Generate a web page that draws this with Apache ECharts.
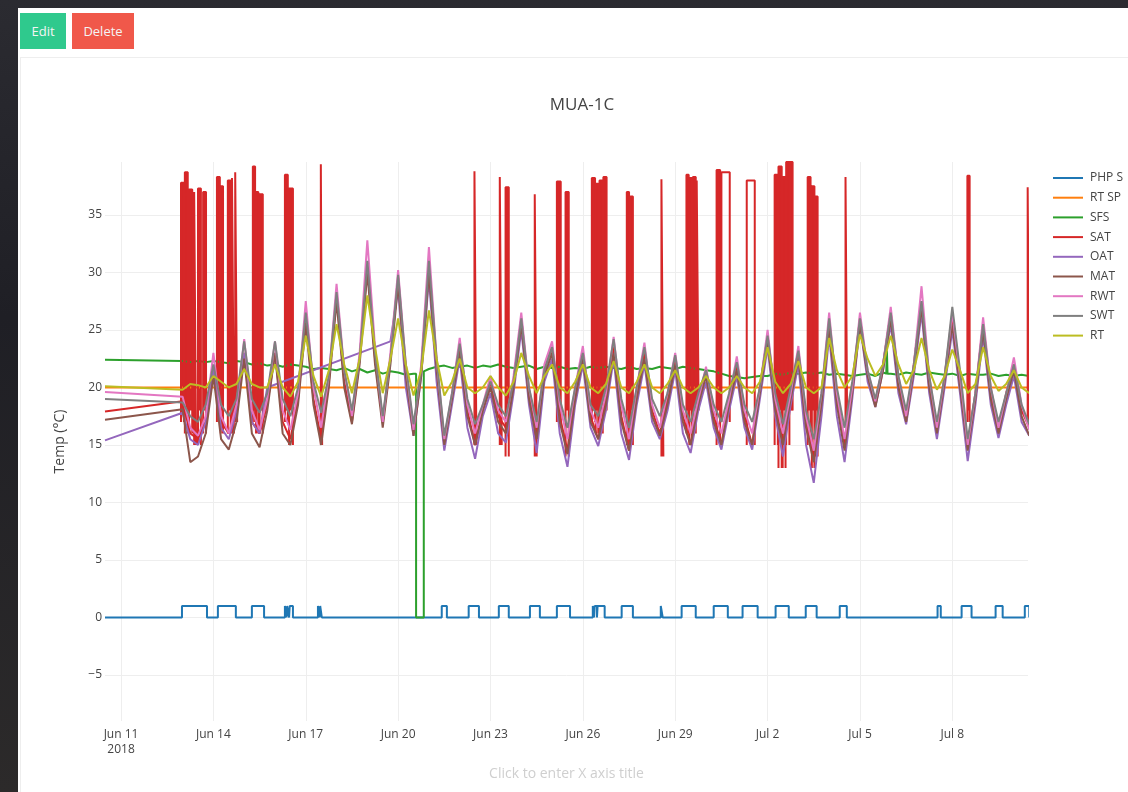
<!DOCTYPE html>
<html>
<head>
<meta charset="utf-8">
<title>MUA-1C</title>
<script src="https://cdn.jsdelivr.net/npm/echarts@6/dist/echarts.min.js"></script>
<style>
  body { margin: 0; width: 1128px; height: 792px; overflow: hidden; font-family: "Open Sans", sans-serif;
         background: linear-gradient(180deg, #2b2b31 0%, #1f1f25 40%, #2c2a2a 100%); }
  #page { position: absolute; left: 18px; top: 8px; right: 0; bottom: 0; background: #fff; }
  .btn { position: absolute; top: 13px; height: 36px; line-height: 36px; color: #f4f4f4; font-size: 13px; text-align: center; }
  #edit { left: 20px; width: 46px; background: #2fc98d; }
  #del { left: 72px; width: 62px; background: #f0584a; }
  #card { position: absolute; left: 20px; top: 57px; width: 1120px; height: 760px; border: 1px solid #eee; }
  #main { position: absolute; left: 0; top: 0; width: 1128px; height: 792px; }
</style>
</head>
<body>
<div id="page"></div>
<div class="btn" id="edit">Edit</div>
<div class="btn" id="del">Delete</div>
<div id="card"></div>
<div id="main"></div>
<script>
// 'MM-DD HH:mm' in 2018, local time
function t(s) {
  var p = s.split(' ');
  var d = p[0].split('-').map(Number);
  var hm = p[1].split(':').map(Number);
  return new Date(2018, d[0] - 1, d[1], hm[0], hm[1]).getTime();
}
var HOUR = 3600 * 1000;

var startTime = '06-10 11:30';
var endTime = '07-10 11:00';
var gridStart = '06-13 00:00';   // readings every 6 hours after the gap

var xTicks = ['06-11 00:00', '06-14 00:00', '06-17 00:00', '06-20 00:00', '06-23 00:00',
              '06-26 00:00', '06-29 00:00', '07-02 00:00', '07-05 00:00', '07-08 00:00'];
var yTicks = [-5, 0, 5, 10, 15, 20, 25, 30, 35];

// first time is the lone reading on Jun 10, then 6-hourly from Jun 13 00:00 to Jul 10 12:00
var times = [t(startTime)];
for (var i = 0; i < 111; i++) times.push(t(gridStart) + i * 6 * HOUR);

var rwt = [
  19.6,
  19.2, 16.5, 15.8, 17.5, // Jun 13
  23.0, 17.5, 16.0, 18.5, // Jun 14
  24.2, 18.0, 16.3, 19.0, // Jun 15
  24.0, 18.0, 16.3, 19.5, // Jun 16
  27.5, 20.0, 16.5, 21.0, // Jun 17
  29.0, 21.5, 17.5, 23.0, // Jun 18
  32.8, 23.5, 17.0, 23.0, // Jun 19
  30.2, 22.0, 16.3, 22.0, // Jun 20
  32.2, 22.5, 15.5, 19.5, // Jun 21
  24.3, 18.5, 16.0, 18.5, // Jun 22
  21.0, 18.0, 17.0, 21.0, // Jun 23
  26.5, 20.0, 16.5, 22.0, // Jun 24
  24.0, 18.5, 15.5, 20.0, // Jun 25
  23.6, 18.0, 16.5, 19.5, // Jun 26
  24.4, 18.5, 15.5, 20.0, // Jun 27
  23.9, 18.5, 16.5, 19.5, // Jun 28
  23.0, 18.0, 16.0, 19.0, // Jun 29
  21.8, 18.0, 16.0, 19.0, // Jun 30
  22.7, 18.0, 16.0, 20.0, // Jul 1
  25.0, 19.0, 16.0, 19.5, // Jul 2
  23.6, 17.5, 14.5, 19.5, // Jul 3
  26.5, 19.5, 15.5, 20.0, // Jul 4
  26.5, 21.5, 18.8, 22.0, // Jul 5
  27.0, 21.0, 17.5, 22.0, // Jul 6
  28.8, 21.0, 16.5, 21.0, // Jul 7
  26.5, 21.0, 15.0, 19.5, // Jul 8
  26.1, 20.0, 16.5, 19.5, // Jul 9
  22.6, 18.5, 16.3        // Jul 10
];

var swt = [
  19.0,
  18.7, 17.5, 17.0, 18.5, // Jun 13
  22.0, 18.5, 17.5, 19.0, // Jun 14
  24.0, 19.0, 17.8, 19.5, // Jun 15
  24.0, 19.0, 17.5, 20.0, // Jun 16
  26.5, 20.5, 17.8, 21.0, // Jun 17
  28.3, 21.5, 18.0, 22.5, // Jun 18
  31.0, 23.0, 17.5, 22.5, // Jun 19
  29.8, 22.0, 16.8, 21.5, // Jun 20
  31.0, 22.5, 15.8, 19.5, // Jun 21
  23.8, 19.0, 16.8, 18.5, // Jun 22
  20.5, 18.5, 17.5, 20.5, // Jun 23
  26.0, 20.0, 17.0, 21.5, // Jun 24
  23.5, 19.0, 16.5, 20.0, // Jun 25
  23.0, 18.5, 17.5, 20.0, // Jun 26
  24.2, 19.0, 16.5, 20.0, // Jun 27
  23.5, 19.0, 17.5, 19.5, // Jun 28
  22.8, 18.5, 17.0, 19.5, // Jun 29
  21.5, 18.5, 17.0, 19.5, // Jun 30
  22.2, 18.5, 17.0, 20.0, // Jul 1
  24.5, 19.5, 16.8, 20.0, // Jul 2
  23.2, 18.0, 15.5, 19.5, // Jul 3
  26.0, 20.0, 16.5, 20.5, // Jul 4
  26.0, 21.5, 19.0, 22.0, // Jul 5
  26.5, 21.0, 18.0, 22.0, // Jul 6
  27.5, 21.0, 17.0, 21.0, // Jul 7
  27.0, 21.5, 15.5, 19.5, // Jul 8
  25.5, 20.0, 17.0, 19.5, // Jul 9
  22.0, 18.5, 16.8        // Jul 10
];

var mat = [
  17.2,
  18.1, 13.5, 14.0, 16.0, // Jun 13
  21.0, 15.5, 14.6, 17.0, // Jun 14
  22.5, 16.0, 14.8, 18.0, // Jun 15
  23.0, 16.0, 15.0, 18.5, // Jun 16
  25.5, 18.5, 15.0, 20.0, // Jun 17
  27.5, 20.0, 16.8, 22.0, // Jun 18
  30.0, 22.0, 16.5, 22.0, // Jun 19
  29.0, 21.0, 15.8, 21.0, // Jun 20
  30.0, 21.5, 15.0, 19.0, // Jun 21
  23.0, 17.5, 15.0, 18.0, // Jun 22
  20.0, 17.0, 16.0, 20.0, // Jun 23
  25.5, 19.0, 15.5, 21.0, // Jun 24
  23.0, 17.0, 14.2, 19.0, // Jun 25
  22.5, 17.0, 15.5, 18.5, // Jun 26
  23.0, 17.0, 14.5, 19.0, // Jun 27
  22.5, 17.5, 15.8, 18.5, // Jun 28
  22.0, 17.0, 15.0, 18.5, // Jun 29
  21.0, 17.0, 15.0, 18.5, // Jun 30
  21.5, 17.0, 15.0, 19.5, // Jul 1
  24.0, 18.0, 15.0, 19.0, // Jul 2
  22.5, 16.5, 13.5, 18.5, // Jul 3
  25.0, 18.5, 14.5, 19.5, // Jul 4
  25.5, 21.0, 18.3, 21.5, // Jul 5
  26.0, 20.0, 17.0, 21.5, // Jul 6
  27.0, 20.0, 16.0, 20.5, // Jul 7
  25.5, 20.0, 14.5, 19.0, // Jul 8
  25.0, 19.0, 16.0, 19.0, // Jul 9
  21.5, 17.5, 15.8        // Jul 10
];

// OAT has no readings from Jun 16 to Jun 19 midday
var oat = [
  15.4,
  17.8, 15.5, 15.0, 17.0, // Jun 13
  21.5, 16.5, 15.5, 18.0, // Jun 14
  23.0, 17.0, 16.0, 20.0, // Jun 15
  null, null, null, null, // Jun 16
  null, null, null, null, // Jun 17
  null, null, null, null, // Jun 18
  null, null, null, 24.0, // Jun 19
  28.5, 20.0, 15.8, 21.0, // Jun 20
  29.5, 20.5, 14.5, 18.5, // Jun 21
  22.5, 16.5, 13.8, 17.5, // Jun 22
  19.5, 16.0, 15.2, 19.5, // Jun 23
  25.0, 18.5, 14.3, 20.5, // Jun 24
  22.5, 16.0, 13.1, 18.5, // Jun 25
  22.0, 16.5, 14.9, 18.0, // Jun 26
  22.5, 16.0, 13.7, 18.5, // Jun 27
  22.0, 17.0, 15.5, 18.0, // Jun 28
  21.5, 16.0, 14.3, 18.0, // Jun 29
  20.5, 16.5, 14.6, 18.0, // Jun 30
  21.0, 16.5, 14.6, 19.0, // Jul 1
  23.5, 17.5, 14.0, 18.5, // Jul 2
  22.0, 15.0, 11.7, 17.5, // Jul 3
  24.5, 17.5, 13.5, 19.0, // Jul 4
  25.5, 20.5, 18.3, 21.5, // Jul 5
  25.5, 19.5, 16.8, 21.0, // Jul 6
  26.5, 19.5, 15.5, 20.0, // Jul 7
  25.0, 19.5, 13.6, 18.5, // Jul 8
  24.5, 18.5, 15.6, 18.5, // Jul 9
  21.0, 17.0, 15.8        // Jul 10
];

var rt = [
  20.1,
  19.8, 20.3, 20.2, 20.0, // Jun 13
  21.0, 20.5, 20.0, 20.3, // Jun 14
  21.6, 20.3, 20.0, 20.0, // Jun 15
  22.0, 20.0, 19.2, 20.5, // Jun 16
  24.5, 21.0, 19.2, 21.5, // Jun 17
  25.5, 22.0, 19.5, 22.5, // Jun 18
  28.0, 23.5, 19.5, 22.5, // Jun 19
  26.0, 22.0, 19.3, 21.5, // Jun 20
  26.7, 22.5, 19.3, 20.5, // Jun 21
  22.5, 20.0, 19.5, 20.0, // Jun 22
  21.0, 20.0, 19.3, 20.5, // Jun 23
  23.0, 21.0, 19.5, 21.0, // Jun 24
  22.0, 20.0, 19.5, 20.5, // Jun 25
  22.0, 20.0, 19.5, 20.3, // Jun 26
  22.3, 20.0, 19.5, 20.5, // Jun 27
  22.0, 20.0, 19.5, 20.3, // Jun 28
  21.5, 20.0, 19.5, 20.0, // Jun 29
  21.0, 20.0, 19.5, 20.0, // Jun 30
  21.0, 20.0, 19.5, 20.5, // Jul 1
  23.5, 20.5, 19.5, 20.3, // Jul 2
  22.3, 20.0, 19.5, 20.0, // Jul 3
  24.3, 21.5, 20.0, 21.0, // Jul 4
  24.6, 22.5, 21.0, 22.0, // Jul 5
  24.5, 22.0, 20.3, 21.5, // Jul 6
  24.3, 21.5, 19.8, 21.0, // Jul 7
  23.3, 21.5, 19.5, 20.3, // Jul 8
  23.5, 21.0, 19.7, 20.3, // Jul 9
  21.5, 20.0, 19.5        // Jul 10
];

// SAT between the heating bursts
var sat = [
  17.9,
  18.8, 16.0, 15.5, 17.0, // Jun 13
  21.5, 17.0, 16.0, 18.0, // Jun 14
  23.0, 17.0, 16.0, 18.5, // Jun 15
  23.0, 17.0, 15.5, 19.0, // Jun 16
  26.0, 19.0, 15.5, 20.5, // Jun 17
  28.0, 20.5, 17.0, 22.5, // Jun 18
  30.5, 22.5, 17.0, 22.5, // Jun 19
  29.5, 21.5, 16.0, 21.5, // Jun 20
  30.8, 22.0, 15.0, 19.0, // Jun 21
  23.5, 18.0, 15.0, 18.0, // Jun 22
  20.5, 17.5, 16.5, 20.5, // Jun 23
  26.0, 19.5, 15.5, 21.5, // Jun 24
  23.5, 17.5, 14.5, 19.5, // Jun 25
  23.0, 17.5, 15.5, 19.0, // Jun 26
  23.5, 17.5, 14.5, 19.5, // Jun 27
  23.0, 18.0, 16.0, 19.0, // Jun 28
  22.5, 17.5, 15.0, 19.0, // Jun 29
  21.5, 17.5, 15.0, 19.0, // Jun 30
  22.0, 17.5, 15.0, 20.0, // Jul 1
  24.5, 18.5, 15.0, 19.5, // Jul 2
  23.0, 17.0, 14.0, 19.0, // Jul 3
  25.5, 19.0, 15.0, 20.0, // Jul 4
  26.0, 21.0, 18.5, 22.0, // Jul 5
  26.5, 20.5, 17.0, 22.0, // Jul 6
  27.5, 20.5, 16.0, 21.0, // Jul 7
  26.0, 20.5, 15.0, 19.5, // Jul 8
  25.5, 19.5, 16.0, 19.5, // Jul 9
  22.0, 18.0, 16.5        // Jul 10
];

// SAT heating bursts, rapid cycling (drawn solid): [start, end, top, foot]
var satBursts = [
  ['06-12 22:45', '06-13 01:00', 37.8, 17], ['06-13 01:45', '06-13 04:00', 38.7, 16],
  ['06-13 05:00', '06-13 07:30', 37.2, 16], ['06-13 09:00', '06-13 10:30', 37.0, 15],
  ['06-13 12:00', '06-13 14:15', 37.3, 15], ['06-13 16:00', '06-13 18:15', 37.0, 16],
  ['06-14 02:45', '06-14 05:00', 38.3, 17], ['06-14 05:45', '06-14 07:30', 37.5, 16],
  ['06-14 11:15', '06-14 13:30', 38.0, 16], ['06-14 14:30', '06-14 16:00', 38.2, 16],
  ['06-14 17:00', '06-14 18:30', 38.7, 17],
  ['06-15 06:45', '06-15 08:30', 39.2, 17], ['06-15 09:15', '06-15 11:00', 37.0, 16],
  ['06-15 12:00', '06-15 14:30', 36.8, 16],
  ['06-16 07:45', '06-16 10:00', 38.5, 17], ['06-16 11:00', '06-16 14:00', 37.3, 15],
  ['06-17 11:45', '06-17 12:45', 39.4, 15],
  ['06-22 11:30', '06-22 13:00', 38.8, 15],
  ['06-23 07:15', '06-23 08:45', 38.3, 15], ['06-23 11:45', '06-23 14:15', 37.4, 14],
  ['06-24 10:30', '06-24 12:00', 36.8, 14],
  ['06-25 03:45', '06-25 06:45', 37.9, 17], ['06-25 10:30', '06-25 13:00', 37.0, 14],
  ['06-26 07:00', '06-26 09:30', 38.2, 17], ['06-26 10:00', '06-26 12:00', 37.7, 16],
  ['06-26 13:00', '06-26 15:30', 38.0, 16], ['06-26 16:00', '06-26 18:30', 38.3, 18],
  ['06-27 10:15', '06-27 12:00', 37.0, 15], ['06-27 13:00', '06-27 15:00', 36.6, 15],
  ['06-28 13:15', '06-28 14:45', 38.1, 14],
  ['06-29 08:45', '06-29 10:30', 38.5, 16], ['06-29 11:00', '06-29 13:00', 38.2, 15],
  ['06-29 13:45', '06-29 16:00', 38.3, 16], ['06-29 16:45', '06-29 18:15', 38.0, 18],
  ['06-30 08:15', '06-30 11:00', 38.9, 15],
  ['07-02 05:30', '07-02 08:00', 38.5, 15], ['07-02 08:30', '07-02 11:00', 39.2, 13],
  ['07-02 11:45', '07-02 14:00', 38.3, 13], ['07-02 14:30', '07-02 17:00', 39.6, 15],
  ['07-02 17:30', '07-02 19:30', 39.6, 18],
  ['07-03 07:15', '07-03 09:30', 38.3, 15], ['07-03 10:30', '07-03 12:30', 37.5, 13],
  ['07-03 13:15', '07-03 15:00', 36.6, 14],
  ['07-04 12:45', '07-04 14:00', 38.3, 17],
  ['07-08 11:45', '07-08 13:30', 38.4, 17],
  ['07-10 10:45', '07-10 12:00', 37.4, 17]
];
// SAT held high without cycling (drawn as an outline)
var satHolds = [
  ['06-30 12:00', '06-30 18:30', 38.7, 17],
  ['07-01 07:45', '07-01 14:00', 38.0, 15]
];

var sfs = [
  22.4,
  22.3, 22.2, 22.3, 22.2, // Jun 13
  22.3, 22.2, 22.1, 22.3, // Jun 14
  22.2, 22.0, 22.1, 21.9, // Jun 15
  22.0, 21.8, 22.0, 21.9, // Jun 16
  21.8, 21.6, 21.7, 21.6, // Jun 17
  21.5, 21.7, 21.4, 21.6, // Jun 18
  21.3, 21.5, 21.2, 21.4, // Jun 19
  21.3, 21.1, 21.2, 0,    // Jun 20
  21.6, 21.8, 21.9, 21.7, // Jun 21
  21.8, 21.9, 21.7, 21.9, // Jun 22
  21.8, 22.0, 21.8, 21.7, // Jun 23
  21.8, 21.9, 21.6, 21.8, // Jun 24
  21.7, 21.8, 21.6, 21.7, // Jun 25
  21.6, 21.8, 21.7, 21.8, // Jun 26
  21.7, 21.6, 21.8, 21.6, // Jun 27
  21.7, 21.6, 21.8, 21.7, // Jun 28
  21.6, 21.8, 21.7, 21.6, // Jun 29
  21.5, 21.4, 21.2, 21.0, // Jun 30
  20.9, 20.8, 20.9, 21.0, // Jul 1
  21.0, 21.2, 21.1, 21.3, // Jul 2
  21.2, 21.3, 21.2, 21.3, // Jul 3
  21.1, 21.2, 21.1, 21.0, // Jul 4
  21.1, 21.2, 21.0, 21.3, // Jul 5
  21.2, 21.1, 21.3, 21.2, // Jul 6
  21.1, 21.3, 21.2, 21.1, // Jul 7
  21.2, 21.0, 21.2, 21.1, // Jul 8
  21.1, 21.2, 21.0, 21.1, // Jul 9
  21.0, 21.1, 21.0        // Jul 10
];
// fan dropout on Jun 20 and a short blip on Jul 5
var sfsEvents = [
  ['06-20 14:00', 21.2], ['06-20 14:00', 0], ['06-20 20:00', 0], ['06-20 20:00', 21.4],
  ['07-05 20:30', 21.2], ['07-05 21:00', 23.2], ['07-05 21:30', 21.2]
];

var rtSp = [20.0, 20.0];   // constant set point, first and last reading

// PHP S on periods
var phpOn = [
  ['06-12 23:30', '06-13 19:00'], ['06-14 03:30', '06-14 17:30'], ['06-15 06:00', '06-15 15:30'],
  ['06-16 07:45', '06-16 09:00'], ['06-16 09:30', '06-16 11:00'], ['06-16 11:30', '06-16 14:00'],
  ['06-17 09:30', '06-17 10:45'], ['06-17 11:15', '06-17 12:30'],
  ['06-21 10:00', '06-21 14:00'], ['06-22 07:00', '06-22 15:00'], ['06-23 06:30', '06-23 14:15'],
  ['06-24 06:45', '06-24 14:30'], ['06-25 03:45', '06-25 14:00'],
  ['06-26 07:45', '06-26 08:45'], ['06-26 09:15', '06-26 11:00'], ['06-26 11:30', '06-26 17:00'],
  ['06-27 06:15', '06-27 15:00'], ['06-28 12:45', '06-28 14:15'], ['06-29 05:00', '06-29 16:00'],
  ['06-30 06:00', '06-30 17:00'], ['07-01 04:30', '07-01 16:15'], ['07-02 06:15', '07-02 16:30'],
  ['07-03 05:45', '07-03 14:15'], ['07-04 08:15', '07-04 13:45'], ['07-07 12:30', '07-07 15:00'],
  ['07-08 07:15', '07-08 15:00'], ['07-09 09:45', '07-09 15:15'], ['07-10 08:30', '07-10 12:00']
];

var names = ['PHP S', 'RT SP', 'SFS', 'SAT', 'OAT', 'MAT', 'RWT', 'SWT', 'RT'];
var colors = ['#1f77b4', '#ff7f0e', '#2ca02c', '#d62728', '#9467bd', '#8c564b', '#e377c2', '#7f7f7f', '#bcbd22'];
var months = ['Jan', 'Feb', 'Mar', 'Apr', 'May', 'Jun', 'Jul', 'Aug', 'Sep', 'Oct', 'Nov', 'Dec'];

function onGrid(vals) {
  return vals.map(function (v, k) { return [times[k], v == null ? '-' : v]; });
}

var lastTime = times[times.length - 1];

var phpData = [[times[0], 0]];
phpOn.forEach(function (p) {
  phpData.push([t(p[0]), 0], [t(p[0]), 1], [t(p[1]), 1], [t(p[1]), 0]);
});
phpData.push([lastTime, 0]);

var sfsData = onGrid(sfs).concat(sfsEvents.map(function (e) { return [t(e[0]), e[1]]; }));
sfsData.sort(function (a, b) { return a[0] - b[0]; });

function boxes(list) {
  var out = [];
  list.forEach(function (s) {
    out.push([t(s[0]), s[3]], [t(s[0]), s[2]], [t(s[1]), s[2]], [t(s[1]), s[3]], [t(s[1]), '-']);
  });
  return out;
}

function line(name, data, extra) {
  var s = {
    name: name,
    type: 'line',
    data: data,
    color: colors[names.indexOf(name)],
    showSymbol: false,
    symbol: 'none',
    lineStyle: { width: 2 },
    animation: false
  };
  return Object.assign(s, extra || {});
}

var myChart = echarts.init(document.getElementById('main'));

var option = {
  animation: false,
  textStyle: { fontFamily: '"Open Sans", sans-serif' },
  title: {
    text: 'MUA-1C',
    left: 582,
    top: 97,
    padding: 0,
    textAlign: 'center',
    textStyle: { color: '#444', fontSize: 17, fontWeight: 'normal', fontFamily: '"Open Sans", sans-serif' }
  },
  legend: {
    data: names,
    orient: 'vertical',
    left: 1053,
    top: 171,
    padding: 0,
    icon: 'rect',
    itemWidth: 30,
    itemHeight: 2,
    itemGap: 5.7,
    textStyle: { color: '#444', fontSize: 12, lineHeight: 14, padding: [0, 0, 0, 2], fontFamily: '"Open Sans", sans-serif' }
  },
  grid: { left: 105, top: 162, width: 923, height: 559 },
  xAxis: {
    type: 'value',
    min: t(startTime),
    max: t(endTime),
    name: 'Click to enter X axis title',
    nameLocation: 'middle',
    nameGap: 46,
    nameTextStyle: { color: '#cfcfcf', fontSize: 14 },
    axisLine: { show: false },
    axisTick: { show: false, customValues: xTicks.map(t) },
    splitLine: { show: true, lineStyle: { color: '#eee', width: 1 } },
    axisLabel: {
      customValues: xTicks.map(t),
      color: '#444',
      fontSize: 12,
      lineHeight: 15,
      margin: 6,
      formatter: function (v) {
        var d = new Date(v);
        var s = months[d.getMonth()] + ' ' + d.getDate();
        if (v === t(xTicks[0])) s += '\n' + d.getFullYear();
        return s;
      }
    }
  },
  yAxis: {
    type: 'value',
    min: -9,
    max: 39.6,
    name: 'Temp (°C)',
    nameLocation: 'middle',
    nameRotate: 90,
    nameGap: 38,
    nameTextStyle: { color: '#444', fontSize: 14 },
    axisLine: { show: false },
    axisTick: { show: false, customValues: yTicks },
    splitLine: { show: true, lineStyle: { color: '#eee', width: 1 } },
    axisLabel: {
      customValues: yTicks,
      color: '#444',
      fontSize: 12,
      margin: 3,
      formatter: function (v) { return String(v).replace('-', '\u2212'); }
    }
  },
  series: [
    line('PHP S', phpData),
    line('RT SP', [[times[0], rtSp[0]], [lastTime, rtSp[1]]]),
    line('SFS', sfsData),
    line('SAT', onGrid(sat)),
    line('SAT', boxes(satBursts), { connectNulls: false, areaStyle: { color: '#d62728', opacity: 1, origin: 18 } }),
    line('SAT', boxes(satHolds), { connectNulls: false }),
    line('OAT', onGrid(oat), { connectNulls: true }),
    line('MAT', onGrid(mat)),
    line('RWT', onGrid(rwt)),
    line('SWT', onGrid(swt)),
    line('RT', onGrid(rt))
  ]
};

myChart.setOption(option);
</script>
</body>
</html>
